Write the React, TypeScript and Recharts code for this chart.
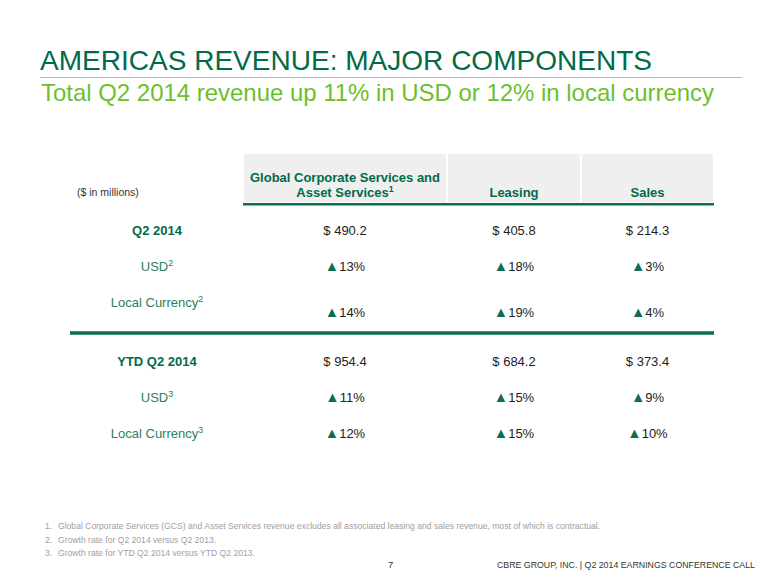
import React from "react";
import { Bar, BarChart, LabelList, XAxis, YAxis } from "recharts";

// table content
const columnHeaders = [
  ["Global Corporate Services and", "Asset Services¹"],
  ["Leasing"],
  ["Sales"]
];
const q2RowLabels = ["Q2 2014", "USD²", "Local Currency²"];
const ytdRowLabels = ["YTD Q2 2014", "USD³", "Local Currency³"];
const q2Revenue = [490.2, 405.8, 214.3];
const q2UsdGrowth = [13, 18, 3];
const q2LocalGrowth = [14, 19, 4];
const ytdRevenue = [954.4, 684.2, 373.4];
const ytdUsdGrowth = [11, 15, 9];
const ytdLocalGrowth = [12, 15, 10];
const footnotes = [
  "Global Corporate Services (GCS) and Asset Services revenue excludes all associated leasing and sales revenue, most of which is contractual.",
  "Growth rate for Q2 2014 versus Q2 2013.",
  "Growth rate for YTD Q2 2014 versus YTD Q2 2013."
];

// relative column widths (like a colspan)
const COL_WIDTHS = [204, 134, 133];
const TOTAL_WIDTH = COL_WIDTHS.reduce((a, b) => a + b, 0);

const FONT = "'Liberation Sans', Arial, sans-serif";
const DARK_GREEN = "#006b48";
const RULE_GREEN = "#0b6e4f";
const LABEL_GREEN = "#2c8064";
const LIGHT_GREEN = "#6cbf2e";

const money = (v: number) => `$ ${v.toFixed(1)}`;
const growth = (v: number) => `▲${v}%`;

const SUPERS: Record<string, string> = { "¹": "1", "²": "2", "³": "3" };

// draws a trailing footnote mark as a raised small digit
const withSup = (s: string, size: number) => {
  const last = s.slice(-1);
  if (!SUPERS[last]) return s;
  return (
    <>
      {s.slice(0, -1)}
      <tspan fontSize={size * 0.68} dy={-size * 0.38}>
        {SUPERS[last]}
      </tspan>
    </>
  );
};

const buildRows = (
  labels: string[],
  revenue: number[],
  usd: number[],
  local: number[]
) =>
  labels.map((label, r) => {
    const vals = [revenue.map(money), usd.map(growth), local.map(growth)][r];
    const row: Record<string, string | number> = { label };
    COL_WIDTHS.forEach((w, c) => {
      row[`s${c}`] = w;
      row[`c${c}`] = vals[c];
    });
    return row;
  });

const q2Rows = buildRows(q2RowLabels, q2Revenue, q2UsdGrowth, q2LocalGrowth);
const ytdRows = buildRows(ytdRowLabels, ytdRevenue, ytdUsdGrowth, ytdLocalGrowth);
const headerRow = [
  COL_WIDTHS.reduce<Record<string, string | number>>(
    (acc, w, c) => ({ ...acc, [`s${c}`]: w, [`c${c}`]: c }),
    { label: "header" }
  )
];

const box = (p: any) => {
  const v = p.viewBox && p.viewBox.width != null ? p.viewBox : p;
  return {
    x: Number(v.x),
    y: Number(v.y),
    w: Number(v.width),
    h: Number(v.height)
  };
};

const headerCell = (ci: number) => (p: any) => {
  const b = box(p);
  const cx = b.x + b.w / 2;
  const lines = columnHeaders[ci];
  const bottom = b.y + b.h - 6;
  return (
    <g>
      {lines.map((l, i) => (
        <text
          key={i}
          x={cx}
          y={bottom - (lines.length - 1 - i) * 15}
          textAnchor="middle"
          fill={DARK_GREEN}
          fontSize={13}
          fontWeight="bold"
          fontFamily={FONT}
        >
          {withSup(l, 13)}
        </text>
      ))}
    </g>
  );
};

const bodyCell = (lastRowShift: number) => (p: any) => {
  const b = box(p);
  const v = String(p.value);
  const cx = b.x + b.w / 2;
  let y = b.y + b.h / 2 + 4.5;
  if (p.index === 2) y += lastRowShift;
  if (v.startsWith("▲")) {
    return (
      <text x={cx} y={y} textAnchor="middle" fontSize={13} fill="#222" fontFamily={FONT}>
        <tspan fill={RULE_GREEN} fontSize={14.5}>
          ▲
        </tspan>
        <tspan>{v.slice(1)}</tspan>
      </text>
    );
  }
  return (
    <text x={cx} y={y} textAnchor="middle" fontSize={13} fill="#222" fontFamily={FONT}>
      {v}
    </text>
  );
};

const rowLabel = (p: any) => {
  const bold = p.index === 0;
  return (
    <text
      x={157}
      y={p.y + 4.5}
      textAnchor="middle"
      fontSize={13}
      fontWeight={bold ? "bold" : "normal"}
      fill={bold ? DARK_GREEN : LABEL_GREEN}
      fontFamily={FONT}
    >
      {withSup(String(p.payload.value), 13)}
    </text>
  );
};

const Section = ({
  rows,
  top,
  lastRowShift
}: {
  rows: Record<string, string | number>[];
  top: number;
  lastRowShift: number;
}) => (
  <div style={{ position: "absolute", left: 0, top }}>
    <BarChart
      width={780}
      height={108}
      layout="vertical"
      data={rows}
      barCategoryGap={0}
      margin={{ top: 0, right: 66, bottom: 0, left: 0 }}
    >
      <XAxis type="number" hide domain={[0, TOTAL_WIDTH]} />
      <YAxis
        type="category"
        dataKey="label"
        width={243}
        axisLine={false}
        tickLine={false}
        interval={0}
        tick={rowLabel}
      />
      {COL_WIDTHS.map((_, c) => (
        <Bar
          key={c}
          dataKey={`s${c}`}
          stackId="cols"
          fill="transparent"
          isAnimationActive={false}
        >
          <LabelList dataKey={`c${c}`} content={bodyCell(lastRowShift)} />
        </Bar>
      ))}
    </BarChart>
  </div>
);

export default function App() {
  return (
    <div
      style={{
        position: "absolute",
        left: 0,
        top: 0,
        width: 780,
        height: 585,
        background: "#fff",
        overflow: "hidden",
        fontFamily: FONT
      }}
    >
      <svg
        width={780}
        height={585}
        style={{ position: "absolute", left: 0, top: 0 }}
        fontFamily={FONT}
      >
        <text
          x={40}
          y={70}
          fontSize={28}
          fill={DARK_GREEN}
          textLength={612}
          lengthAdjust="spacingAndGlyphs"
        >
          AMERICAS REVENUE: MAJOR COMPONENTS
        </text>
        <line x1={40} x2={742} y1={77.5} y2={77.5} stroke="#9bd47a" strokeWidth={1} />
        <text
          x={41}
          y={101}
          fontSize={24}
          fill={LIGHT_GREEN}
          textLength={673}
          lengthAdjust="spacingAndGlyphs"
        >
          Total Q2 2014 revenue up 11% in USD or 12% in local currency
        </text>
        <text x={77} y={196} fontSize={10.5} fill="#333">
          ($ in millions)
        </text>
        <line x1={243} x2={714} y1={204} y2={204} stroke={RULE_GREEN} strokeWidth={3} />
        <line x1={70} x2={714} y1={333} y2={333} stroke={RULE_GREEN} strokeWidth={3.5} />
        {footnotes.map((f, i) => (
          <g key={i} fontSize={8.6} fill="#a0a0a0">
            <text x={45} y={529 + i * 13.5}>
              {`${i + 1}.`}
            </text>
            <text x={58} y={529 + i * 13.5}>
              {f}
            </text>
          </g>
        ))}
        <text x={388} y={568} fontSize={9.5} fill="#333">
          7
        </text>
        <text
          x={497}
          y={568}
          fontSize={8.7}
          fill="#333"
          textLength={258}
          lengthAdjust="spacingAndGlyphs"
        >
          CBRE GROUP, INC. | Q2 2014 EARNINGS CONFERENCE CALL
        </text>
      </svg>

      <div style={{ position: "absolute", left: 0, top: 153 }}>
        <BarChart
          width={780}
          height={50}
          layout="vertical"
          data={headerRow}
          barCategoryGap={0}
          margin={{ top: 0, right: 66, bottom: 0, left: 243 }}
        >
          <XAxis type="number" hide domain={[0, TOTAL_WIDTH]} />
          <YAxis type="category" dataKey="label" hide />
          {COL_WIDTHS.map((_, c) => (
            <Bar
              key={c}
              dataKey={`s${c}`}
              stackId="cols"
              fill="#efefef"
              stroke="#ffffff"
              strokeWidth={2}
              isAnimationActive={false}
            >
              <LabelList dataKey={`c${c}`} content={headerCell(c)} />
            </Bar>
          ))}
        </BarChart>
      </div>

      <Section rows={q2Rows} top={212} lastRowShift={10} />
      <Section rows={ytdRows} top={343} lastRowShift={0} />
    </div>
  );
}
